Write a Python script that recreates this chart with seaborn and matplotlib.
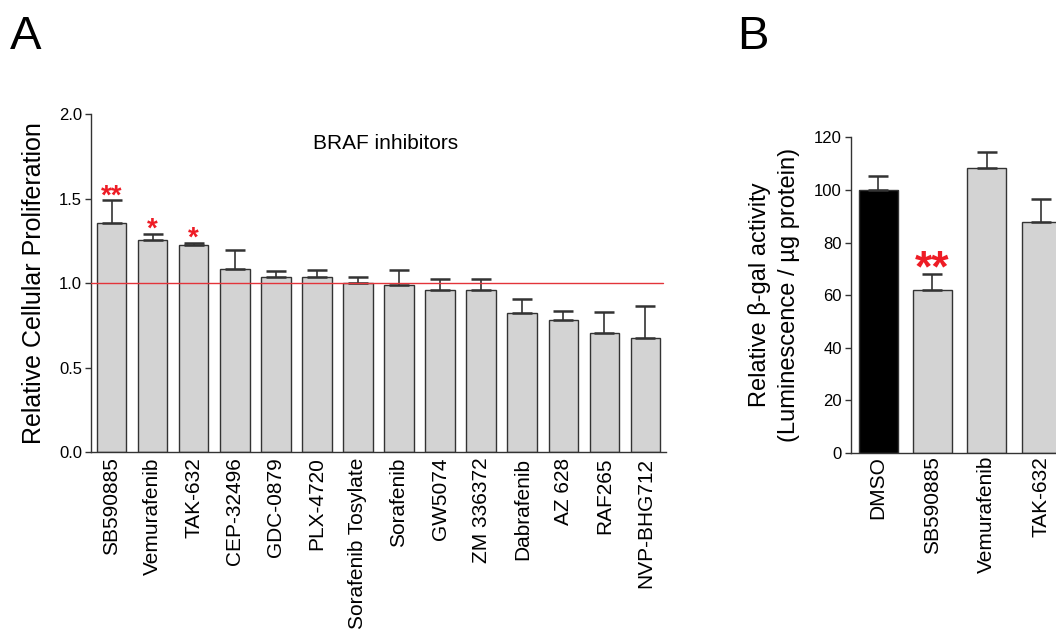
import matplotlib
matplotlib.use("Agg")
import matplotlib.pyplot as plt
import seaborn as sns
import pandas as pd
import numpy as np

# ---------------- data ----------------
a_labels = ["SB590885", "Vemurafenib", "TAK-632", "CEP-32496", "GDC-0879", "PLX-4720",
            "Sorafenib Tosylate", "Sorafenib", "GW5074", "ZM 336372", "Dabrafenib",
            "AZ 628", "RAF265", "NVP-BHG712"]
a_values = [1.358, 1.256, 1.225, 1.082, 1.038, 1.034, 1.000, 0.988, 0.962, 0.958,
            0.825, 0.779, 0.702, 0.676]
a_err = [0.133, 0.036, 0.014, 0.115, 0.034, 0.044, 0.038, 0.090, 0.060, 0.066,
         0.084, 0.058, 0.125, 0.187]
a_sig = ["**", "*", "*", "", "", "", "", "", "", "", "", "", "", ""]

b_labels = ["DMSO", "SB590885", "Vemurafenib", "TAK-632"]
b_values = [100.0, 61.8, 108.3, 87.7]
b_err = [5.2, 6.4, 6.1, 9.0]
b_sig = ["", "**", "", ""]

# ---------------- style ----------------
sns.set_style("ticks")
plt.rcParams["font.family"] = ["Liberation Sans", "DejaVu Sans"]
plt.rcParams["axes.edgecolor"] = "#333333"
plt.rcParams["axes.linewidth"] = 1.0
plt.rcParams["text.color"] = "black"
plt.rcParams["axes.labelcolor"] = "black"
plt.rcParams["xtick.labelcolor"] = "black"
plt.rcParams["ytick.labelcolor"] = "black"

EDGE = "#333333"
FILL = "#d3d3d3"
RED = "#ee1c25"

fig = plt.figure(figsize=(10.56, 6.36), dpi=100)
fig.patch.set_facecolor("white")

# ---------------- panel A ----------------
axA = fig.add_axes([91 / 1056, 1 - 452 / 636, 575 / 1056, (452 - 114.3) / 636])
dfA = pd.DataFrame({"drug": a_labels, "value": a_values})
sns.barplot(data=dfA, x="drug", y="value", order=a_labels, color=FILL,
            edgecolor=EDGE, linewidth=1.0, width=0.72, errorbar=None, ax=axA,
            saturation=1)
xA = np.arange(len(a_labels))
axA.errorbar(xA, a_values, yerr=[np.zeros(len(a_err)), a_err], fmt="none",
             ecolor=EDGE, elinewidth=1.2, capsize=7.5, capthick=1.8, zorder=1)
axA.axhline(1.0, xmin=0, xmax=0.995, color="#e3343a", lw=1.0, zorder=5)
axA.set_xlim(-0.5, len(a_labels) - 0.5)
axA.set_ylim(0, 2.0)
axA.set_yticks([0, 0.5, 1.0, 1.5, 2.0])
axA.set_yticklabels(["0.0", "0.5", "1.0", "1.5", "2.0"])
axA.set_xlabel("")
axA.set_ylabel("Relative Cellular Proliferation", fontsize=18, labelpad=9)
axA.tick_params(axis="y", labelsize=12, length=4.5, width=1, color=EDGE, pad=2)
axA.tick_params(axis="x", labelsize=15, length=0, pad=4, labelrotation=90)
sns.despine(ax=axA)
for i, s in enumerate(a_sig):
    if s:
        axA.annotate(s, (i, a_values[i] + a_err[i]), xytext=(0, -2.2),
                     textcoords="offset points", ha="center", va="baseline",
                     color=RED, fontsize=20, fontweight="bold")
axA.text(6.67, 1.83, "BRAF inhibitors", ha="center", va="center", fontsize=15)

# ---------------- panel B ----------------
axB = fig.add_axes([851 / 1056, 1 - 453 / 636, 4 * 54.3 / 1056, (453 - 137.3) / 636])
dfB = pd.DataFrame({"drug": b_labels, "value": b_values})
sns.barplot(data=dfB, x="drug", y="value", order=b_labels,
            palette=["#000000", FILL, FILL, FILL], hue="drug", legend=False,
            edgecolor=EDGE, linewidth=1.0, width=0.72, errorbar=None, ax=axB,
            saturation=1)
xB = np.arange(len(b_labels))
axB.errorbar(xB, b_values, yerr=[np.zeros(len(b_err)), b_err], fmt="none",
             ecolor=EDGE, elinewidth=1.2, capsize=7.3, capthick=1.8, zorder=1)
axB.set_xlim(-0.5, len(b_labels) - 0.5)
axB.set_ylim(0, 120)
axB.set_yticks([0, 20, 40, 60, 80, 100, 120])
axB.set_xlabel("")
axB.set_ylabel("Relative \u03b2-gal activity\n(Luminescence / \u00b5g protein)",
               fontsize=17, labelpad=10, linespacing=1.45)
axB.tick_params(axis="y", labelsize=12, length=4.5, width=1, color=EDGE, pad=2)
axB.tick_params(axis="x", labelsize=15, length=0, pad=2, labelrotation=90)
sns.despine(ax=axB)
for i, s in enumerate(b_sig):
    if s:
        axB.annotate(s, (i, b_values[i] + b_err[i]), xytext=(0, -5.5),
                     textcoords="offset points", ha="center", va="baseline",
                     color=RED, fontsize=32, fontweight="bold")

# ---------------- panel letters ----------------
fig.text(10 / 1056, 1 - 49 / 636, "A", fontsize=34, va="baseline", ha="left")
fig.text(737 / 1056, 1 - 49 / 636, "B", fontsize=34, va="baseline", ha="left")

fig.savefig("out.png", dpi=100, facecolor="white")
